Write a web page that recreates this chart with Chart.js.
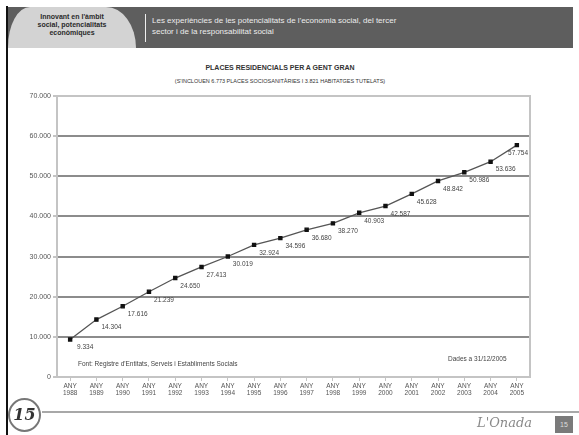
<!DOCTYPE html>
<html>
<head>
<meta charset="utf-8">
<script src="https://cdn.jsdelivr.net/npm/chart.js@4/dist/chart.umd.min.js"></script>
<style>
  body { margin:0; width:579px; height:435px; background:#fff; position:relative; overflow:hidden;
         font-family:"Liberation Sans", Arial, sans-serif; }
  .frame { position:absolute; left:6px; top:6px; width:2px; height:429px; background:#111; }
  .band { position:absolute; left:7px; top:7px; width:566px; height:41px; background:#5e5e5e; }
  .tab { position:absolute; left:8px; top:7px; width:128px; height:41px; background:#d3d3d3;
         border-radius:22px 30px 0 0 / 40px 41px 0 0; color:#2a2a2a; font-weight:bold;
         font-size:7px; line-height:8px; text-align:center; padding-top:6px; box-sizing:border-box; }
  .sep { position:absolute; left:145px; top:14px; width:1px; height:28px; background:#eee; }
  .head { position:absolute; left:152px; top:15px; color:#ececec; font-size:8px; line-height:11px; }
  .ttl { position:absolute; left:0; width:560px; text-align:center; color:#333; }
  .t1 { top:64px; font-size:7px; font-weight:bold; }
  .t2 { top:78px; font-size:5.5px; }
  .note { position:absolute; font-size:6.5px; color:#444; }
  .foot { position:absolute; left:42px; top:411px; width:537px; height:2px; background:#a8a8a8; }
  .logo { position:absolute; left:8px; top:398px; width:29px; height:30px; border:2px solid #777;
          border-radius:50%; font:italic bold 16px "DejaVu Serif", serif; color:#333;
          text-align:center; line-height:29px; }
  .brand { position:absolute; left:477px; top:415px; font:italic 13px "DejaVu Serif", serif; color:#8a8a8a; }
  .page { position:absolute; left:555px; top:416px; width:18px; height:17px; background:#7a7a7a;
          color:#ddd; font-size:7px; text-align:center; line-height:17px; }
  canvas { position:absolute; left:0; top:0; }
</style>
</head>
<body>
<div class="band"></div>
<div class="tab">Innovant en l'àmbit<br>social, potencialitats<br>econòmiques</div>
<div class="sep"></div>
<div class="head">Les experiències de les potencialitats de l'economia social, del tercer<br>sector i de la responsabilitat social</div>
<div class="frame"></div>
<div class="ttl t1">PLACES RESIDENCIALS PER A GENT GRAN</div>
<div class="ttl t2">(S'INCLOUEN 6.773 PLACES SOCIOSANITÀRIES I 3.821 HABITATGES TUTELATS)</div>
<canvas id="chart" width="579" height="435"></canvas>
<div class="note" style="left:78px;top:360px;">Font: Registre d'Entitats, Serveis i Establiments Socials</div>
<div class="note" style="left:448px;top:355px;">Dades a 31/12/2005</div>
<div class="foot"></div>
<div class="logo">15</div>
<div class="brand">L'Onada</div>
<div class="page">15</div>
<script>
const years = ['1988','1989','1990','1991','1992','1993','1994','1995','1996','1997',
               '1998','1999','2000','2001','2002','2003','2004','2005'];
const places = [9334, 14304, 17616, 21239, 24650, 27413, 30019, 32924, 34596, 36680,
                38270, 40903, 42587, 45628, 48842, 50986, 53636, 57754];
const yTicks = [0, 10000, 20000, 30000, 40000, 50000, 60000, 70000];

function fmt(v){
    return v.toString().replace(/\B(?=(\d{3})+(?!\d))/g, '.');
}

// value labels below and to the right of each point
const valueLabels = {
    id: 'valueLabels',
    afterDatasetsDraw(chart){
        let ctx = chart.ctx;
        let area = chart.chartArea;
        let meta = chart.getDatasetMeta(0);
        ctx.save();
        ctx.font = '6.5px "Liberation Sans", Arial, sans-serif';
        ctx.fillStyle = '#444';
        ctx.textAlign = 'center';
        ctx.textBaseline = 'middle';
        meta.data.forEach((pt, i) => {
            let txt = fmt(places[i]);
            let w = ctx.measureText(txt).width;
            let x = Math.min(pt.x + 15, area.right - w / 2 - 2);
            ctx.fillText(txt, x, pt.y + 8);
        });
        ctx.restore();
    }
};

const light = '#c4c4c4';
const dark = '#8c8c8c';

new Chart(document.getElementById('chart'), {
    type: 'line',
    data: {
        labels: years.map(y => ['ANY', y]),
        datasets: [{
            data: places,
            borderColor: '#555',
            borderWidth: 1.3,
            pointStyle: 'rect',
            pointRadius: 2.2,
            pointBackgroundColor: '#111',
            pointBorderColor: '#111',
            tension: 0
        }]
    },
    options: {
        responsive: false,
        animation: false,
        layout: { padding: { left: 20, top: 96, right: 49, bottom: 30 } },
        plugins: { legend: { display: false }, tooltip: { enabled: false } },
        scales: {
            x: {
                offset: true,
                afterFit: s => { s.height = 28; },
                grid: { drawOnChartArea: false, color: light, tickLength: 4, lineWidth: 1 },
                border: { color: light, width: 2 },
                ticks: { color: '#555', font: { size: 6.5, family: '"Liberation Sans", Arial' },
                         padding: 1, maxRotation: 0, autoSkip: false }
            },
            y: {
                min: 0, max: 70000,
                afterFit: s => { s.width = 37; },
                afterBuildTicks: s => { s.ticks = yTicks.map(v => ({ value: v })); },
                grid: {
                    color: c => (c.tick.value === 0 || c.tick.value === 70000) ? light : dark,
                    lineWidth: 2,
                    tickColor: light,
                    tickLength: 4
                },
                border: { color: light, width: 2 },
                ticks: { color: '#555', font: { size: 7, family: '"Liberation Sans", Arial' },
                         padding: 2, callback: v => fmt(v) }
            },
            y2: {
                position: 'right',
                min: 0, max: 70000,
                afterFit: s => { s.width = 0; },
                grid: { display: false },
                border: { color: light, width: 2 },
                ticks: { display: false }
            }
        }
    },
    plugins: [valueLabels]
});
</script>
</body>
</html>
